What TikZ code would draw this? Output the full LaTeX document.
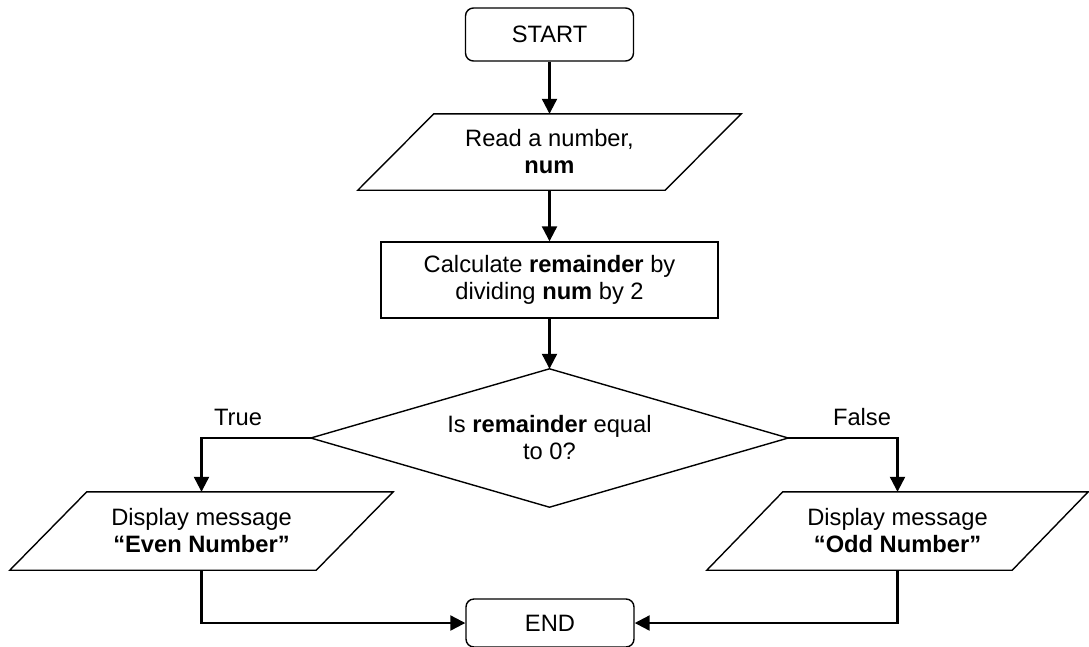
\documentclass[tikz,border=0pt]{standalone}
\usepackage{fontspec}
\setmainfont{Liberation Sans}
\usetikzlibrary{arrows.meta}
\begin{document}
\begin{tikzpicture}[x=1pt,y=-1pt,
  font=\fontsize{23.7}{27}\selectfont,
  terminal/.style={draw, line width=1.4pt, rounded corners=8pt, minimum width=168pt, inner sep=0pt},
  process/.style={draw, line width=1.4pt, minimum width=337pt, minimum height=76pt, inner sep=0pt, align=center},
  decision/.style={minimum width=477pt, minimum height=138pt, inner sep=0pt, align=center},
  iobox/.style={minimum height=78pt, inner sep=0pt, align=center},
  outline/.style={line width=1.4pt, line join=miter},
  flow/.style={line width=2.2pt, -{Triangle[length=15pt,width=15pt]}},
  lbl/.style={inner sep=0pt},
]
% canvas
\fill[white] (0,0) rectangle (1089,646);
\useasboundingbox (0,0) rectangle (1089,646);

% nodes
\node[terminal, minimum height=53pt] (start) at (549.5,34.5) {START};
\node[iobox, minimum width=307pt, minimum height=76pt] (read) at (549.5,152) {Read a number,\\ \textbf{num}};
\node[process] (calc) at (549.5,280) {Calculate \textbf{remainder} by\\ dividing \textbf{num} by 2};
\node[decision] (dec) at (549.5,438) {Is \textbf{remainder} equal\\ to 0?};
\node[iobox, minimum width=306pt] (even) at (201.5,531) {Display message\\ \textbf{“Even Number”}};
\node[iobox, minimum width=305pt] (odd) at (897.5,531) {Display message\\ \textbf{“Odd Number”}};
\node[terminal, minimum height=48pt] (end) at (550,623) {END};

% decision diamond
\draw[outline] (dec.north) -- (dec.east) -- (dec.south) -- (dec.west) -- cycle;

% input/output parallelograms
\draw[outline] ([xshift=38pt]read.north west) -- ([xshift=38pt]read.north east)
  -- ([xshift=-38pt]read.south east) -- ([xshift=-38pt]read.south west) -- cycle;
\draw[outline] ([xshift=38.5pt]even.north west) -- ([xshift=38.5pt]even.north east)
  -- ([xshift=-38.5pt]even.south east) -- ([xshift=-38.5pt]even.south west) -- cycle;
\draw[outline] ([xshift=38pt]odd.north west) -- ([xshift=38pt]odd.north east)
  -- ([xshift=-38pt]odd.south east) -- ([xshift=-38pt]odd.south west) -- cycle;

% branch labels
\node[lbl] (truelbl) at (238,417) {True};
\node[lbl] (falselbl) at (862,417) {False};

% connectors
\draw[flow] (start.south) -- (read.north);
\draw[flow] (read.south) -- (calc.north);
\draw[flow] (calc.south) -- (dec.north);
\draw[flow] (dec.west) -| (even.north);
\draw[flow] (dec.east) -| (odd.north);
\draw[flow] (even.south) |- (end.west);
\draw[flow] (odd.south) |- (end.east);
\end{tikzpicture}
\end{document}
